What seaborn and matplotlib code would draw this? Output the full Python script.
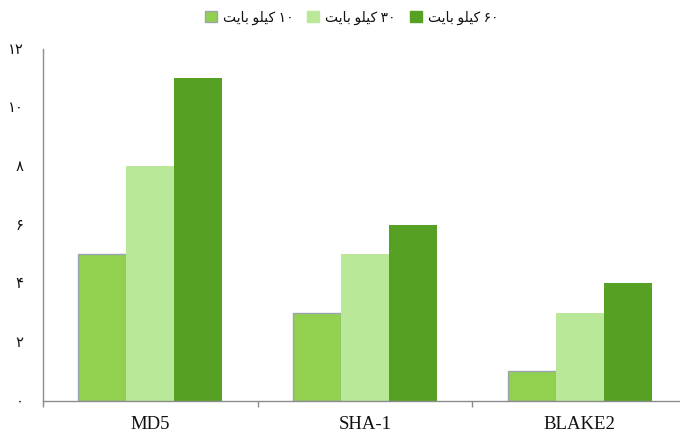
import matplotlib
matplotlib.use("Agg")
import matplotlib.pyplot as plt
from matplotlib.patches import Patch
from matplotlib.ticker import FixedLocator
import seaborn as sns
import pandas as pd

# ---- data -------------------------------------------------------------
algorithms = ["MD5", "SHA-1", "BLAKE2"]
sizes_kb = [10, 30, 60]
values_10kb = [5, 3, 1]
values_30kb = [8, 5, 3]
values_60kb = [11, 6, 4]
y_ticks = [0, 2, 4, 6, 8, 10, 12]

colors = ["#92D050", "#B8E898", "#56A124"]
edge_colors = ["#9AA5B1", "none", "none"]

# Persian digits and the word "کیلو بایت" written as pre-shaped glyphs in
# visual (left-to-right) order, since matplotlib does no Arabic shaping/bidi.
FA_DIGITS = str.maketrans("0123456789", "۰۱۲۳۴۵۶۷۸۹")
KILOBYTE_VISUAL = "\uFE96\uFBFE\uFE8E\uFE91 \uFEEE\uFEE0\uFBFF\uFB90"


def fa(n):
    return str(n).translate(FA_DIGITS)


def size_label(kb):
    return f"{KILOBYTE_VISUAL} {fa(kb)}"


series = [values_10kb, values_30kb, values_60kb]
rows = []
for kb, vals in zip(sizes_kb, series):
    for alg, v in zip(algorithms, vals):
        rows.append({"algorithm": alg, "size": size_label(kb), "value": v})
df = pd.DataFrame(rows)
hue_order = [size_label(kb) for kb in sizes_kb]

# ---- figure -----------------------------------------------------------
sns.set_theme(style="white")
plt.rcParams["font.family"] = ["Liberation Serif", "DejaVu Sans"]

fig = plt.figure(figsize=(6.8, 4.36), dpi=100)
ax = fig.add_axes([43 / 680, 35.3 / 436, (687 - 43) / 680, (400.7 - 48.5) / 436])

sns.barplot(
    data=df, x="algorithm", y="value", hue="size",
    order=algorithms, hue_order=hue_order, palette=colors,
    width=0.67, gap=0, ax=ax, legend=False, saturation=1,
)

for container, ec in zip(ax.containers, edge_colors):
    for bar in container:
        if ec == "none":
            bar.set_edgecolor("none")
            bar.set_linewidth(0)
        else:
            bar.set_edgecolor(ec)
            bar.set_linewidth(1.0)

ax.set_xlim(-0.5, len(algorithms) - 0.5)
ax.set_ylim(0, 12)
ax.set_xlabel("")
ax.set_ylabel("")

ax.set_yticks(y_ticks)
ax.set_yticklabels([fa(t) for t in y_ticks], fontsize=10.5)
ax.set_xticks(range(len(algorithms)))
ax.set_xticklabels(algorithms, fontsize=13.5)

# boundary ticks between categories
ax.xaxis.set_minor_locator(FixedLocator([i - 0.5 for i in range(len(algorithms) + 1)]))

spine_color = "#8C8C8C"
for side in ["top", "right"]:
    ax.spines[side].set_visible(False)
for side in ["left", "bottom"]:
    ax.spines[side].set_color(spine_color)
    ax.spines[side].set_linewidth(1.0)

ax.tick_params(axis="y", which="major", direction="out", length=4, width=1,
               color=spine_color, pad=10, labelcolor="#111111")
ax.tick_params(axis="x", which="major", length=0, pad=11, labelcolor="#111111")
ax.tick_params(axis="x", which="minor", direction="out", length=4, width=1,
               color=spine_color, bottom=True)

handles = [
    Patch(facecolor=c, edgecolor=(ec if ec != "none" else c), linewidth=1.0)
    for c, ec in zip(colors, edge_colors)
]
fig.legend(
    handles, hue_order, loc="upper center", bbox_to_anchor=(0.517, 1.0),
    ncol=3, frameon=False, fontsize=10, handlelength=0.85, handleheight=0.85,
    handletextpad=0.45, columnspacing=1.0, borderaxespad=0.35,
    labelcolor="#111111",
)

fig.savefig("out.png", dpi=100)
